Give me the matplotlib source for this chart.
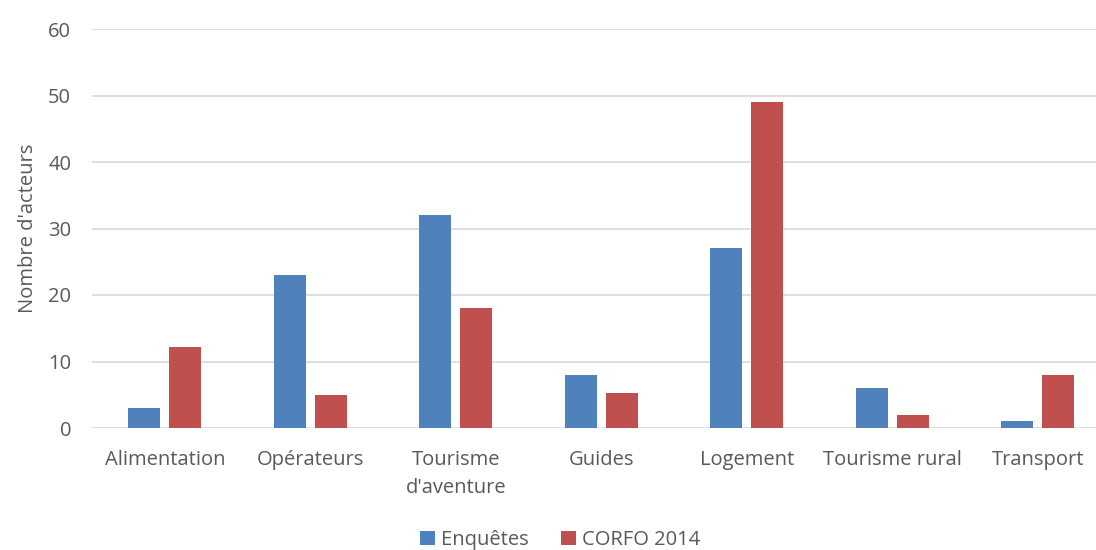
import numpy as np
import matplotlib
matplotlib.use("Agg")
import matplotlib.pyplot as plt

categories = ["Alimentation", "Opérateurs", "Tourisme\nd'aventure", "Guides",
              "Logement", "Tourisme rural", "Transport"]
enquetes = [3, 23, 32, 8, 27, 6, 1]
corfo = [12.2, 5, 18, 5.3, 49, 2, 8]

plt.rcParams['font.family'] = ['Open Sans', 'DejaVu Sans']
txt = '#595959'
fs = 14.5

fig = plt.figure(figsize=(10.96, 5.5), dpi=100)
ax = fig.add_axes([92/1096, 1-428/550, 1-92/1096, (428-29)/550])

x = np.arange(len(categories))
w = 0.22
ax.bar(x - 0.141, enquetes, w, color='#4F81BD', label='Enquêtes', zorder=3)
ax.bar(x + 0.141, corfo, w, color='#C0504D', label='CORFO 2014', zorder=3)

ax.set_ylim(0, 60)
ax.set_xlim(-0.5, 6.4)
ax.set_yticks(range(0, 61, 10))
ax.set_xticks(x)
ax.set_xticklabels(categories, fontsize=fs, color=txt, linespacing=1.5)
ax.tick_params(axis='y', length=0, pad=15, labelsize=fs, labelcolor=txt)
ax.tick_params(axis='x', length=0, pad=16)
ax.grid(axis='y', color='#D9D9D9', linewidth=1.2, zorder=0)
for s in ax.spines.values():
    s.set_visible(False)

ax.set_ylabel("Nombre d'acteurs", fontsize=fs, color=txt)
ax.yaxis.set_label_coords(-0.054, 0.5)

fig.legend(loc='center', bbox_to_anchor=(560/1096, 1-540/550), ncol=2,
           frameon=False, fontsize=fs, labelcolor=txt, handlelength=0.75,
           handleheight=0.75, handletextpad=0.3, columnspacing=1.6)

fig.savefig('out.png', dpi=100)
